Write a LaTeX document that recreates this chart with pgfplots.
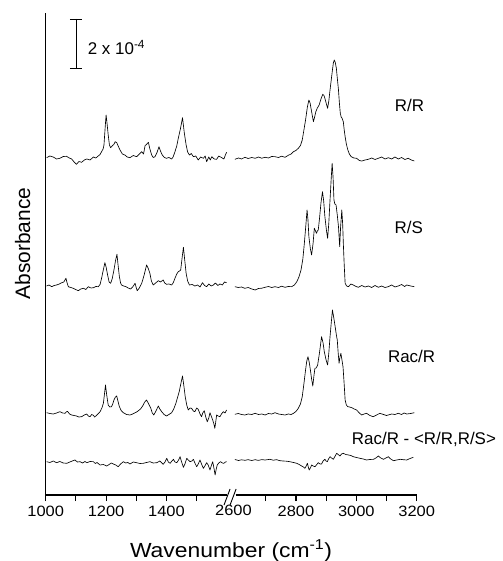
\documentclass[border=0pt]{standalone}
\usepackage{fontspec}
\setmainfont{Liberation Sans}
\newfontfamily\widefont[FakeStretch=1.12]{Liberation Sans}
\newfontfamily\tickfont[FakeStretch=1.1]{Liberation Sans}
\usepackage{pgfplots}
\pgfplotsset{compat=1.18}
\pgfplotsset{
  spec/.style={
    scale only axis, width=181.2bp, height=482bp,
    ymin=0, ymax=482, ytick=\empty,
    axis x line*=bottom,
    tick align=outside, major tick length=6bp,
    clip=false,
    axis line style={line width=1.1pt},
    xtick style={draw=black, line width=1.2pt},
    xticklabel style={font=\tickfont\fontsize{15}{15}\selectfont, yshift=-2bp},
    every axis plot post/.append style={black, line width=0.65pt, mark=none, line join=round},
  }
}
\begin{document}
\begin{tikzpicture}
\useasboundingbox (-45.7bp,-66bp) rectangle (457.3bp,495bp);
% ---------------- left panel ----------------
\begin{axis}[spec, at={(0bp,0bp)}, anchor=south west,
  xmin=1000, xmax=1600, axis y line*=left,
  xtick={1000,1100,1200,1300,1400,1500},
  xticklabels={1000,,1200,,1400,}]
% R/R
\addplot coordinates {(1003,337.3)(1014,339)(1025,338)(1036,336)(1047,336.7)(1058,338.5)(1069,338.7)(1078,337)(1086,336)(1094,333)(1102,330.7)(1110,333.5)(1119,332.7)(1128,335)(1136,336)(1147,335)(1158,338)(1166,337)(1174,339)(1180,340.5)(1185,343.3)(1190,346)(1193,350)(1197,368)(1200,380)(1203,372)(1207,360)(1211,350)(1215,347.3)(1220,349)(1226,350.7)(1230,353.3)(1235,352.5)(1240,349)(1246,345)(1254,341)(1262,340)(1270,338)(1279,337.3)(1290,339.5)(1301,338.3)(1310,341)(1318,343.3)(1324,341)(1329,349.3)(1335,351)(1340,352.7)(1345,346)(1351,340)(1356,337.5)(1362,338.3)(1368,342)(1375,348.3)(1380,344)(1386,340)(1393,337.5)(1400,336.7)(1408,337.5)(1417,336)(1422,338)(1428,343.3)(1434,349)(1439,356.7)(1446,366)(1453,377.3)(1459,362)(1465,350)(1470,343)(1476,340)(1482,341.5)(1489,338.3)(1497,339)(1505,335)(1513,338)(1522,336.7)(1528,339)(1533,333.3)(1540,338)(1545,335)(1550,338.3)(1558,336)(1566,335.7)(1573,339)(1583,337.3)(1590,336)(1595,340)(1599,342.7)};
% R/S
\addplot coordinates {(1003,209)(1011,210)(1020,208.3)(1028,209.5)(1036,210)(1045,211)(1053,212.3)(1060,213)(1067,216.7)(1071,212)(1075,208.3)(1083,207.5)(1091,206.7)(1099,205.5)(1108,204.3)(1116,206)(1125,206.7)(1133,205.5)(1141,208.3)(1150,207)(1158,207.3)(1166,208.5)(1174,208.3)(1180,210.5)(1185,216.7)(1190,224)(1196,232.3)(1200,228)(1205,220)(1210,213)(1215,211.7)(1220,216)(1226,225)(1231,234)(1236,240.7)(1240,229)(1244,218.3)(1248,212)(1251,210)(1258,209)(1266,208.3)(1273,207)(1281,206)(1288,208)(1296,211.7)(1300,207)(1303,204.3)(1310,207)(1318,211.7)(1326,220)(1334,230)(1339,227)(1345,221.7)(1350,214)(1356,210)(1364,212)(1373,214.3)(1380,213)(1389,215)(1394,212)(1400,210.7)(1408,211)(1417,210)(1422,212)(1428,216.7)(1434,221)(1439,223.3)(1443,224)(1447,225)(1452,238)(1456,247.7)(1460,236)(1465,221.7)(1470,214)(1476,210)(1485,210.5)(1494,209)(1503,210)(1511,208)(1519,212.3)(1526,209.5)(1533,208.3)(1540,211)(1548,209)(1555,210)(1562,212)(1570,209.5)(1577,211)(1585,210)(1592,213)(1599,212.3)};
% Rac/R
\addplot coordinates {(1003,82.3)(1014,81.5)(1025,81)(1036,82)(1047,83.3)(1056,82)(1064,81.7)(1068,83)(1072,83.7)(1079,81)(1086,80)(1094,79.5)(1102,79)(1110,78)(1119,78.3)(1128,80)(1136,81)(1141,79)(1147,78.3)(1152,80.5)(1158,79.7)(1162,78)(1166,79)(1173,81)(1180,83.3)(1186,87)(1191,91.7)(1195,102)(1198,110)(1202,100)(1207,90)(1212,88)(1218,88.3)(1222,91)(1226,95)(1231,98)(1235,99)(1240,93)(1244,88.3)(1250,84.5)(1257,82.3)(1268,80.5)(1279,80)(1288,81)(1296,82.3)(1301,83)(1307,84.3)(1314,86)(1321,89)(1328,93)(1334,95)(1341,91)(1348,86.7)(1353,82)(1358,80)(1365,84)(1373,89)(1378,86)(1384,83.3)(1392,80.5)(1400,79)(1408,80.5)(1417,82.3)(1424,86)(1431,91.7)(1437,98)(1442,103.3)(1448,112)(1453,119)(1458,108)(1462,98.3)(1467,90)(1472,85)(1478,87)(1483,86.7)(1489,84)(1494,83.3)(1500,87)(1505,85.7)(1511,81)(1516,78.3)(1520,82)(1525,84.3)(1530,78)(1535,73.3)(1540,77)(1544,82.3)(1548,79)(1553,75)(1557,71)(1560,66.7)(1563,73)(1566,80)(1571,79)(1577,78.3)(1582,81)(1588,83.3)(1594,82)(1599,85)};
% difference
\addplot coordinates {(1003,33.3)(1014,32.5)(1025,34)(1036,32.3)(1047,33.5)(1058,32)(1070,31.7)(1080,33)(1088,34)(1097,35)(1105,33)(1114,33.3)(1122,32)(1130,33.5)(1136,32.3)(1147,33.5)(1158,33.3)(1164,31.5)(1170,32.5)(1180,30)(1191,30.5)(1202,29)(1210,30.5)(1217,32)(1224,31)(1232,30)(1240,28.3)(1248,31)(1257,33.3)(1265,32)(1272,32.5)(1279,31)(1290,33)(1301,32.3)(1312,31.5)(1323,31.7)(1334,32.5)(1345,33.3)(1356,32)(1368,32.3)(1378,34)(1389,30.7)(1395,33)(1401,36.7)(1406,33)(1412,31.7)(1418,34)(1423,35.7)(1428,33)(1434,32.3)(1440,35)(1445,38.3)(1450,33)(1456,27.7)(1461,31)(1467,36.7)(1472,35)(1478,33.3)(1484,34)(1489,35.7)(1494,32)(1500,28.3)(1505,31)(1511,35)(1516,31)(1522,26.7)(1527,29)(1533,32.3)(1538,30)(1544,25)(1548,29)(1553,33.3)(1557,27)(1561,20)(1564,25)(1568,30)(1573,32)(1579,33.3)(1585,32)(1590,31.7)(1595,33)(1599,33.3)};
% scale bar (2 x 10^-4)
\addplot[line width=0.8pt] coordinates {(1080,476)(1120,476)};
\addplot[line width=0.8pt] coordinates {(1100,476)(1100,427)};
\addplot[line width=0.8pt] coordinates {(1080,427)(1120,427)};
\node[anchor=west, font=\fontsize{17}{17}\selectfont] at (axis cs:1128,447.5) {2 x 10\textsuperscript{-4}};
% tick marks
\pgfplotsinvokeforeach{1000,1100,1200,1300,1400,1500}{
  \draw[line width=1.2pt] (axis cs:#1,0) -- (axis cs:#1,-6);
}
\end{axis}
% ---------------- right panel ----------------
\begin{axis}[spec, at={(189.8bp,0bp)}, anchor=south west,
  xmin=2600, xmax=3200, axis y line=none,
  xtick={2700,2800,2900,3000,3100,3200},
  xticklabels={,2800,,3000,,3200},
  extra x ticks={2600}, extra x tick labels={2600},
  extra x tick style={major tick length=0pt, xticklabel style={xshift=-2bp, yshift=-5bp}}]
% R/R
\addplot coordinates {(2598,335.7)(2610,337)(2620,336)(2631,337.7)(2642,336.5)(2654,337.5)(2665,336.7)(2676,338)(2687,336.8)(2698,337.7)(2709,337)(2720,338.5)(2731,338.3)(2742,337.5)(2753,338.8)(2764,337.7)(2775,339.7)(2784,341)(2792,343.3)(2800,344.5)(2808,346.7)(2815,349.5)(2821,355)(2826,364)(2832,375)(2838,388)(2843,395)(2847,392)(2850,386.7)(2854,380)(2858,373.3)(2862,378)(2866,383.3)(2871,387)(2877,390)(2883,396)(2889,400.7)(2893,399.5)(2896,396.7)(2901,391)(2905,386.7)(2909,394)(2913,405)(2917,415)(2921,425)(2924,432)(2927,435)(2930,433)(2934,426.7)(2937,417)(2941,405)(2944,392)(2947,381.7)(2950,378)(2953,376.7)(2957,373.3)(2960,365)(2963,358.3)(2967,351)(2972,345)(2977,341)(2983,338.3)(2992,337)(3001,336.7)(3010,334.5)(3018,334)(3029,335)(3040,335.7)(3051,337)(3062,335.5)(3073,336.7)(3084,338)(3095,336)(3106,337.3)(3117,336)(3128,338)(3139,336)(3150,337.5)(3161,335.5)(3172,336.7)(3182,335)(3192,334)};
% R/S
\addplot coordinates {(2598,208.3)(2609,207.5)(2620,208)(2631,206.7)(2642,207.5)(2654,206)(2665,205)(2676,206.5)(2687,206.8)(2698,207.7)(2709,208.5)(2720,207.5)(2731,208.3)(2742,207.5)(2753,208.8)(2764,207.7)(2775,208.5)(2786,208.3)(2795,210)(2803,213.3)(2810,218)(2817,225)(2823,236)(2828,251.7)(2833,270)(2837,285)(2840,275)(2843,258.3)(2848,246)(2852,240)(2857,252)(2861,266.7)(2865,264)(2868,261.7)(2871,264)(2874,265)(2878,276)(2883,292)(2888,303.3)(2892,294)(2896,278.3)(2901,265)(2905,256.7)(2909,272)(2913,295)(2917,317)(2920,331.7)(2923,318)(2926,295)(2929,291)(2933,290)(2937,280)(2941,268.3)(2945,248.3)(2948,268)(2952,285)(2955,270)(2957,251.7)(2960,230)(2963,211.7)(2968,209)(2974,208.3)(2982,211)(2990,210)(2999,208.5)(3007,207.7)(3018,209.5)(3029,208)(3040,209)(3051,207.5)(3062,209.5)(3073,207.7)(3084,209)(3095,207.5)(3106,208.3)(3117,210)(3128,208)(3139,209)(3150,210.5)(3160,208.5)(3167,210)(3180,209)(3192,208.3)};
% Rac/R
\addplot coordinates {(2598,80.7)(2609,81.5)(2620,80.5)(2631,80)(2642,81)(2654,80.5)(2665,81.7)(2676,80.5)(2687,81)(2698,80)(2709,81.5)(2720,81)(2731,82.3)(2742,81)(2753,80.5)(2764,80)(2775,81)(2784,80.5)(2792,81.7)(2800,83.5)(2808,86.7)(2815,91)(2821,98.3)(2826,110)(2832,125)(2836,134)(2840,138.3)(2844,133)(2848,125)(2852,116)(2856,109)(2860,120)(2863,126.7)(2867,127)(2872,130)(2878,142)(2885,158.3)(2890,152)(2894,143.3)(2900,135)(2905,130)(2909,142)(2913,158.3)(2917,172)(2921,185)(2925,178)(2930,168.3)(2934,160)(2937,155)(2940,142)(2943,131.7)(2946,138)(2949,141.7)(2952,136)(2956,128.3)(2960,110)(2963,95)(2967,90)(2972,88.3)(2978,88)(2985,87.3)(2993,86)(3001,85)(3010,82)(3018,80)(3026,81)(3034,81.7)(3045,79.5)(3056,78.3)(3067,80)(3078,81.7)(3090,80.5)(3100,79.5)(3106,80)(3117,81)(3128,80.5)(3139,81.7)(3150,80.5)(3158,82)(3167,81)(3180,81.5)(3192,82.3)};
% difference
\addplot coordinates {(2598,35.5)(2610,34.5)(2620,35.2)(2631,34.7)(2642,35.3)(2654,34.5)(2665,35.3)(2676,34.6)(2687,35.4)(2698,35)(2714,35.7)(2725,34.8)(2736,35.3)(2747,34.3)(2758,34)(2769,33.8)(2780,33.3)(2792,32.5)(2803,31.7)(2811,30.5)(2819,29)(2825,28)(2830,26.7)(2834,29)(2838,31.7)(2841,28)(2844,25)(2848,27)(2852,30)(2857,29)(2863,28.3)(2868,30)(2874,32.3)(2880,31)(2885,31)(2890,34)(2896,35.7)(2900,34)(2904,33.3)(2908,36)(2913,38.3)(2918,37)(2924,35.7)(2930,39)(2935,41.7)(2940,40.5)(2946,39)(2951,41)(2957,41.7)(2965,40.5)(2974,40)(2982,39.5)(2990,38.3)(3001,37.5)(3012,36.7)(3023,36)(3034,35)(3045,35.5)(3057,35.7)(3065,37)(3073,39)(3081,37)(3090,35.7)(3098,37)(3106,38.3)(3114,36)(3123,34.3)(3134,35)(3145,35.7)(3156,35.3)(3167,35)(3178,36.5)(3189,37.7)};
% labels
\node[font=\fontsize{17}{17}\selectfont] at (axis cs:3176,389.5) {R/R};
\node[font=\fontsize{17}{17}\selectfont] at (axis cs:3174,267.5) {R/S};
\node[font=\fontsize{17}{17}\selectfont] at (axis cs:3183,139) {Rac/R};
\node[font=\fontsize{17}{17}\selectfont] at (axis cs:3224,56) {Rac/R - <R/R,R/S>};
% tick marks
\pgfplotsinvokeforeach{2700,2800,2900,3000,3100,3200}{
  \draw[line width=1.2pt] (axis cs:#1,0) -- (axis cs:#1,-6);
}
% axis break marks
\draw[line width=0.9pt] (axis cs:2562,-10) -- (axis cs:2582,6);
\draw[line width=0.9pt] (axis cs:2582,-10) -- (axis cs:2602,6);
\end{axis}
% axis labels
\node[anchor=base, font=\widefont\fontsize{20.5}{20.5}\selectfont] at (185.3bp,-62bp) {Wavenumber (cm\textsuperscript{-1})};
\node[anchor=base, rotate=90, font=\fontsize{21}{21}\selectfont] at (-15.7bp,251.5bp) {Absorbance};
\end{tikzpicture}
\end{document}
